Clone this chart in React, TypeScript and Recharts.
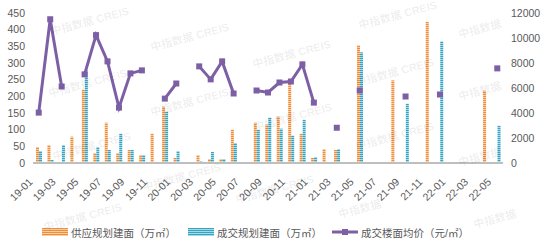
import React from "react";
import { Bar, ComposedChart, Legend, Line, XAxis, YAxis } from "recharts";

const months = [
  "19-01", "19-02", "19-03", "19-04", "19-05", "19-06", "19-07", "19-08", "19-09", "19-10", "19-11", "19-12",
  "20-01", "20-02", "20-03", "20-04", "20-05", "20-06", "20-07", "20-08", "20-09", "20-10", "20-11", "20-12",
  "21-01", "21-02", "21-03", "21-04", "21-05", "21-06", "21-07", "21-08", "21-09", "21-10", "21-11", "21-12",
  "22-01", "22-02", "22-03", "22-04", "22-05",
];

// 供应规划建面（万㎡）
const supplyArea = [
  48, 54, null, 79, 220, 30, 121, 30, 39, 24, 88, 169,
  15, 3, 24, 12, 12, 100, null, 121, 115, 139, 238, 88,
  15, 42, 39, null, 353, null, null, 248, null, null, 423, null,
  null, null, null, 217, null,
];

// 成交规划建面（万㎡）
const dealArea = [
  36, 9, 54, null, 278, 48, 39, 88, 39, 24, null, 154,
  36, null, 6, 33, 12, 60, null, 100, 136, 103, 82, 130,
  18, null, 42, null, 332, null, null, null, 178, null, null, 365,
  null, null, null, null, 112,
];

// 成交楼面均价（元/㎡）
const avgPrice = [
  4030, 11500, 6120, null, 7090, 10230, 8130, 4430, 7170, 7410, null, 5150,
  6360, null, 7730, 6690, 8130, 5560, null, 5800, 5640, 6440, 6520, 7890,
  4830, null, 2820, null, 5800, null, null, null, 5320, null, null, 5480,
  null, null, null, null, 7570,
];

const leftTicks = [0, 50, 100, 150, 200, 250, 300, 350, 400, 450];
const rightTicks = [0, 2000, 4000, 6000, 8000, 10000, 12000];

const data = months.map((month, i) => ({
  month,
  supply: supplyArea[i],
  deal: dealArea[i],
  price: avgPrice[i],
}));

const PURPLE = "#7D5FA5";
const TEXT = "#595959";

const watermarks = [
  { x: 90, y: 22, t: "中指数据 CREIS" },
  { x: 190, y: 38, t: "中指数据 CREIS" },
  { x: 292, y: 55, t: "中指数据 CREIS" },
  { x: 398, y: 16, t: "中指数据 CREIS" },
  { x: 480, y: 30, t: "中指数据" },
  { x: 88, y: 84, t: "中指数据 CREIS" },
  { x: 190, y: 103, t: "中指数据 CREIS" },
  { x: 293, y: 118, t: "中指数据 CREIS" },
  { x: 395, y: 73, t: "中指数据 CREIS" },
  { x: 480, y: 92, t: "中指数据" },
  { x: 92, y: 147, t: "中指数据 CREIS" },
  { x: 395, y: 137, t: "中指数据 CREIS" },
  { x: 480, y: 158, t: "中指数据" },
  { x: 182, y: 178, t: "中指数据 CREIS" },
  { x: 275, y: 190, t: "中指数据 CREIS" },
  { x: 83, y: 218, t: "中指数据 CREIS" },
  { x: 360, y: 210, t: "中指数据" },
  { x: 495, y: 220, t: "中指数据" },
];

const SquareDot = (props: any) => {
  const { cx, cy, value } = props;
  if (value == null || cx == null || cy == null) return <g />;
  return <rect x={cx - 3} y={cy - 3} width={6} height={6} fill={PURPLE} />;
};

const MonthTick = ({ x, y, payload }: any) => (
  <g transform={`translate(${x - 8},${y + 9})`}>
    <text x={0} y={0} dy="0.35em" textAnchor="end" transform="rotate(-45)" fill={TEXT} fontSize={10.5}>
      {payload.value}
    </text>
  </g>
);

const renderLegend = () => (
  <div style={{ display: "flex", alignItems: "center", paddingLeft: 42, height: 24, fontSize: 10.5, color: TEXT }}>
    <svg width={26} height={8}>
      <rect width={26} height={8} fill="url(#supplyStripe)" />
    </svg>
    <span style={{ marginLeft: 3, marginRight: 12 }}>供应规划建面（万㎡）</span>
    <svg width={26} height={8}>
      <rect width={26} height={8} fill="url(#dealStripe)" />
    </svg>
    <span style={{ marginLeft: 3, marginRight: 10 }}>成交规划建面（万㎡）</span>
    <svg width={26} height={8}>
      <line x1={0} y1={4} x2={26} y2={4} stroke={PURPLE} strokeWidth={3} />
      <rect x={10} y={1} width={6} height={6} fill={PURPLE} />
    </svg>
    <span style={{ marginLeft: 3 }}>成交楼面均价（元/㎡）</span>
  </div>
);

export default function App() {
  return (
    <div
      style={{
        position: "absolute",
        left: 0,
        top: 0,
        width: 554,
        height: 252,
        background: "#fff",
        fontFamily: '"Liberation Sans", "Noto Sans CJK SC", sans-serif',
      }}
    >
      <svg width={0} height={0} style={{ position: "absolute" }}>
        <defs>
          <pattern id="supplyStripe" width={4} height={2} patternUnits="userSpaceOnUse">
            <rect width={4} height={2} fill="#F9CDA4" />
            <rect width={4} height={1} fill="#EE8D3C" />
          </pattern>
          <pattern id="dealStripe" width={4} height={2} patternUnits="userSpaceOnUse">
            <rect width={4} height={2} fill="#A4D9E7" />
            <rect width={4} height={1} fill="#38A4C0" />
          </pattern>
        </defs>
      </svg>
      <ComposedChart
        width={554}
        height={252}
        data={data}
        margin={{ top: 13, right: 0, bottom: 0, left: 0 }}
        barGap={0}
      >
        <XAxis
          dataKey="month"
          interval={1}
          tick={<MonthTick />}
          tickLine={false}
          axisLine={{ stroke: "#BFBFBF", strokeWidth: 2 }}
          height={65}
        />
        <YAxis
          yAxisId="left"
          domain={[0, 450]}
          ticks={leftTicks}
          interval={0}
          axisLine={false}
          tickLine={false}
          width={33}
          tick={{ fontSize: 10.5, fill: TEXT }}
        />
        <YAxis
          yAxisId="right"
          orientation="right"
          domain={[0, 12000]}
          ticks={rightTicks}
          interval={0}
          axisLine={false}
          tickLine={false}
          width={51}
          tick={{ fontSize: 10.5, fill: TEXT }}
        />
        <Bar yAxisId="left" dataKey="supply" fill="url(#supplyStripe)" barSize={3} isAnimationActive={false} />
        <Bar yAxisId="left" dataKey="deal" fill="url(#dealStripe)" barSize={3} isAnimationActive={false} />
        <Line
          yAxisId="right"
          dataKey="price"
          stroke={PURPLE}
          strokeWidth={3}
          dot={<SquareDot />}
          activeDot={false}
          connectNulls={false}
          isAnimationActive={false}
        />
        <Legend content={renderLegend} wrapperStyle={{ top: 220, left: 0, width: 554, height: 24 }} />
      </ComposedChart>
      <svg width={554} height={252} style={{ position: "absolute", left: 0, top: 0, pointerEvents: "none" }}>
        {watermarks.map((w, i) => (
          <text
            key={i}
            x={w.x}
            y={w.y}
            textAnchor="middle"
            dominantBaseline="middle"
            transform={`rotate(-15, ${w.x}, ${w.y})`}
            fontSize={11}
            fontWeight="bold"
            fill="#000"
            fillOpacity={0.07}
          >
            {w.t}
          </text>
        ))}
      </svg>
    </div>
  );
}
